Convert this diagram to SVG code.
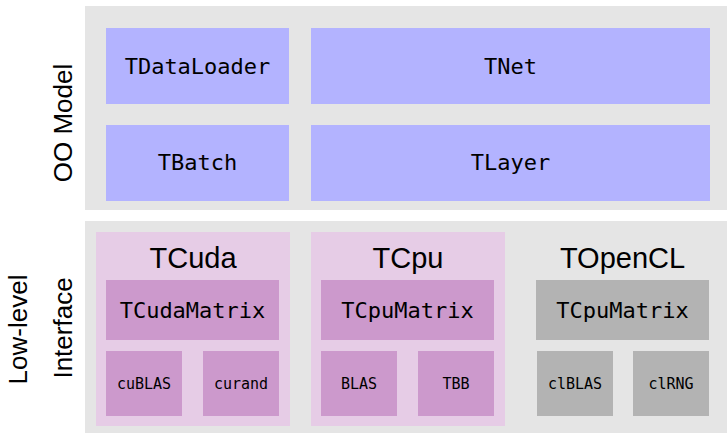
<svg xmlns="http://www.w3.org/2000/svg" width="727" height="434" viewBox="0 0 727 434">
<style>
.panel{fill:#e5e5e5}
.oo{fill:#b3b3ff}
.dev{fill:#e6cce6}
.mat{fill:#cc99cc}
.gmat{fill:#b3b3b3}
.mono{font-family:"DejaVu Sans Mono",monospace;fill:#000;text-anchor:middle}
.big{font-size:22px}
.small{font-size:15px}
.title{font-family:"Liberation Sans",Arial,sans-serif;font-size:29px;fill:#000;text-anchor:middle}
.side{font-family:"Liberation Sans",Arial,sans-serif;font-size:26px;fill:#000;text-anchor:middle}
</style>
<rect width="727" height="434" fill="#fff"/>
<g id="oo-panel">
<rect class="panel" x="85" y="6" width="642" height="204"/>
<text class="side" transform="translate(72,123) rotate(-90)">OO Model</text>
</g>
<g id="TDataLoader"><rect class="oo" x="106" y="28" width="183" height="76"/><text class="mono big" x="197.5" y="74">TDataLoader</text></g>
<g id="TNet"><rect class="oo" x="311" y="28" width="399" height="76"/><text class="mono big" x="510.5" y="74">TNet</text></g>
<g id="TBatch"><rect class="oo" x="106" y="125" width="183" height="76"/><text class="mono big" x="197.5" y="170">TBatch</text></g>
<g id="TLayer"><rect class="oo" x="311" y="125" width="399" height="76"/><text class="mono big" x="510.5" y="170">TLayer</text></g>
<g id="low-panel">
<rect class="panel" x="85" y="221" width="642" height="212"/>
<text class="side" transform="translate(27,329.5) rotate(-90)">Low-level</text>
<text class="side" transform="translate(72,328) rotate(-90)">Interface</text>
</g>
<g id="TCuda">
<rect class="dev" x="96" y="232" width="194" height="194"/>
<text class="title" x="193" y="268">TCuda</text>
</g>
<g id="TCudaMatrix"><rect class="mat" x="106" y="280" width="173" height="60"/><text class="mono big" x="192.5" y="318">TCudaMatrix</text></g>
<g id="cuBLAS"><rect class="mat" x="106" y="351" width="76" height="65"/><text class="mono small" x="144" y="389">cuBLAS</text></g>
<g id="curand"><rect class="mat" x="203" y="351" width="76" height="65"/><text class="mono small" x="241" y="389">curand</text></g>
<g id="TCpu">
<rect class="dev" x="311" y="232" width="194" height="194"/>
<text class="title" x="408" y="268">TCpu</text>
</g>
<g id="TCpuMatrix"><rect class="mat" x="321" y="280" width="173" height="60"/><text class="mono big" x="407.5" y="318">TCpuMatrix</text></g>
<g id="BLAS"><rect class="mat" x="321" y="351" width="76" height="65"/><text class="mono small" x="359" y="389">BLAS</text></g>
<g id="TBB"><rect class="mat" x="418" y="351" width="76" height="65"/><text class="mono small" x="456" y="389">TBB</text></g>
<g id="TOpenCL">
<text class="title" x="622.5" y="268">TOpenCL</text>
</g>
<g id="TCpuMatrix-cl"><rect class="gmat" x="536" y="280" width="173" height="60"/><text class="mono big" x="622.5" y="318">TCpuMatrix</text></g>
<g id="clBLAS"><rect class="gmat" x="537" y="351" width="76" height="65"/><text class="mono small" x="575" y="389">clBLAS</text></g>
<g id="clRNG"><rect class="gmat" x="633" y="351" width="76" height="65"/><text class="mono small" x="671" y="389">clRNG</text></g>
<g id="connectors"></g>
</svg>
